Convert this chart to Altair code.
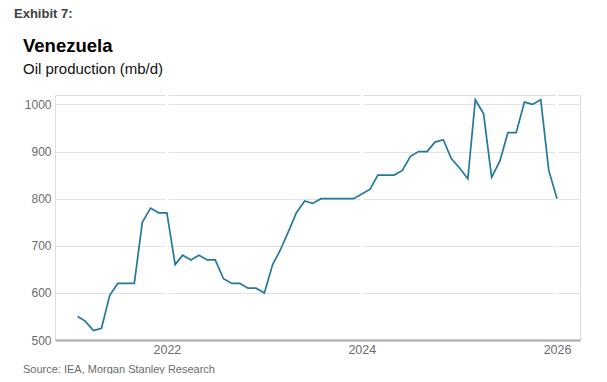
import altair as alt
import pandas as pd

# Monthly Venezuela oil production (mb/d), Feb 2021 – Jan 2026
start_month = "2021-02-01"
production = [
    550, 540, 520, 525, 595, 620, 620, 620, 750, 780, 770,          # 2021 Feb-Dec
    770, 660, 680, 670, 680, 670, 670, 630, 620, 620, 610, 610,     # 2022
    600, 660, 690, 730, 770, 795, 790, 800, 800, 800, 800, 800,     # 2023
    810, 820, 850, 850, 850, 860, 890, 900, 900, 920, 925, 885,     # 2024
    865, 842, 1010, 980, 845, 880, 940, 940, 1005, 1000, 1010, 860, # 2025
    800,                                                            # 2026 Jan
]
year_ticks = ["2022-01-01", "2024-01-01", "2026-01-01"]
y_ticks = [500, 600, 700, 800, 900, 1000]

df = pd.DataFrame({
    "date": pd.date_range(start_month, periods=len(production), freq="MS"),
    "value": production,
})
ticks_df = pd.DataFrame({"date": pd.to_datetime(year_ticks)})

FONT = "Liberation Sans"
W, H = 525, 245

x_scale = alt.Scale(domain=[alt.DateTime(year=2020, month=11, date=8),
                            alt.DateTime(year=2026, month=3, date=28)])
y_scale = alt.Scale(domain=[500, 1020], nice=False, zero=False)

x_axis = alt.Axis(
    values=[alt.DateTime(year=int(t[:4]), month=1, date=1) for t in year_ticks],
    format="%Y", title=None, ticks=False, grid=False,
    domainColor="#b5b5b5", domainWidth=2.5,
    labelColor="#6b6b6b", labelFontSize=12.5, labelFont=FONT, labelPadding=3,
)
y_axis = alt.Axis(
    values=y_ticks, format="d", title=None, ticks=False, domain=False,
    gridColor="#e2e2e2", gridWidth=1.2,
    labelColor="#6b6b6b", labelFontSize=12, labelFont=FONT, labelPadding=4,
)

base_grid = alt.Chart(df).mark_line(opacity=0).encode(
    x=alt.X("date:T", scale=x_scale, axis=x_axis),
    y=alt.Y("value:Q", scale=y_scale, axis=y_axis),
)

breaks = alt.Chart(ticks_df).mark_rule(color="white", strokeWidth=3).encode(
    x=alt.X("date:T", scale=x_scale),
    y=alt.value(0),
    y2=alt.value(H - 2),
)

line = alt.Chart(df).mark_line(color="#22789e", strokeWidth=1.7).encode(
    x=alt.X("date:T", scale=x_scale),
    y=alt.Y("value:Q", scale=y_scale),
)

def label(txt, x, y, size, weight="normal", color="#000000"):
    return alt.Chart(pd.DataFrame({"t": [txt]})).mark_text(
        align="left", baseline="alphabetic", font=FONT, fontSize=size,
        fontWeight=weight, color=color,
    ).encode(text="t:N", x=alt.value(x), y=alt.value(y))

texts = [
    label("Exhibit 7:", -41, -77, 13, "bold", "#404040"),
    label("Venezuela", -32, -43, 18.5, "bold", "#000000"),
    label("Oil production (mb/d)", -32, -21, 15, "normal", "#111111"),
    label("Source: IEA, Morgan Stanley Research", -32, 278, 11, "normal", "#6b6b6b"),
]

chart = alt.layer(base_grid, breaks, line, *texts).properties(
    width=W, height=H,
    autosize=alt.AutoSizeParams(type="none"),
    padding={"left": 47, "top": 87, "right": 19, "bottom": 34},
).configure_view(stroke=None).configure(background="white")

chart.save("out.html", embed_options={"renderer": "svg", "actions": False})
